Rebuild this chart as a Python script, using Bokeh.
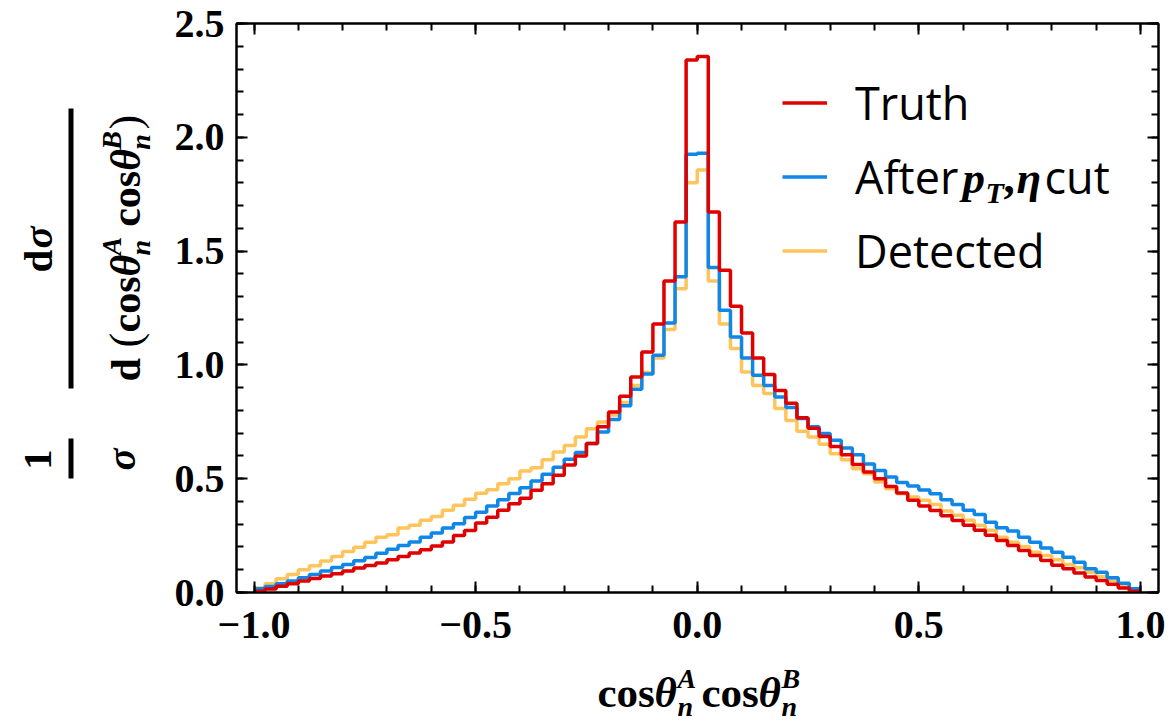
import numpy as np
from bokeh.plotting import figure
from bokeh.layouts import row, column
from bokeh.models import (Range1d, SingleIntervalTicker, LinearAxis, CustomJSTickFormatter,
                          Legend, LegendItem, Label, BoxAnnotation)
from bokeh.embed import file_html
from bokeh.resources import INLINE

# ---------------- data ----------------
bin_edges = [round(-1.0 + 0.025 * i, 4) for i in range(81)]

truth = [0.006, 0.015, 0.028, 0.038, 0.050, 0.062, 0.072, 0.082, 0.095, 0.108,
         0.119, 0.130, 0.144, 0.158, 0.174, 0.188, 0.204, 0.222, 0.250, 0.272,
         0.305, 0.331, 0.361, 0.390, 0.414, 0.449, 0.478, 0.515, 0.560, 0.600,
         0.655, 0.728, 0.793, 0.862, 0.947, 1.057, 1.180, 1.369, 1.628, 2.340,
         2.355, 1.672, 1.416, 1.258, 1.140, 1.030, 0.958, 0.888, 0.832, 0.768,
         0.722, 0.685, 0.641, 0.605, 0.562, 0.529, 0.500, 0.466, 0.437, 0.405,
         0.380, 0.360, 0.337, 0.316, 0.295, 0.273, 0.251, 0.229, 0.207, 0.185,
         0.163, 0.141, 0.120, 0.104, 0.086, 0.068, 0.053, 0.036, 0.020, 0.006]

after_cut = [0.016, 0.026, 0.038, 0.050, 0.065, 0.079, 0.095, 0.110, 0.123, 0.139,
             0.154, 0.172, 0.190, 0.206, 0.222, 0.243, 0.261, 0.283, 0.302, 0.330,
             0.353, 0.380, 0.408, 0.435, 0.460, 0.490, 0.520, 0.550, 0.585, 0.615,
             0.655, 0.705, 0.760, 0.820, 0.893, 0.960, 1.042, 1.184, 1.387, 1.925,
             1.930, 1.428, 1.240, 1.123, 1.030, 0.954, 0.910, 0.859, 0.813, 0.764,
             0.728, 0.699, 0.669, 0.635, 0.605, 0.565, 0.536, 0.507, 0.483, 0.468,
             0.450, 0.434, 0.408, 0.387, 0.361, 0.343, 0.309, 0.284, 0.270, 0.243,
             0.221, 0.196, 0.177, 0.155, 0.133, 0.104, 0.089, 0.065, 0.041, 0.016]

detected = [0.020, 0.038, 0.060, 0.079, 0.100, 0.117, 0.138, 0.158, 0.180, 0.199,
            0.221, 0.243, 0.254, 0.283, 0.295, 0.317, 0.334, 0.361, 0.383, 0.410,
            0.436, 0.451, 0.478, 0.500, 0.534, 0.548, 0.583, 0.617, 0.646, 0.683,
            0.720, 0.749, 0.780, 0.835, 0.910, 0.967, 1.030, 1.155, 1.335, 1.800,
            1.856, 1.369, 1.180, 1.072, 0.969, 0.910, 0.874, 0.808, 0.756, 0.708,
            0.683, 0.651, 0.610, 0.583, 0.544, 0.522, 0.485, 0.456, 0.434, 0.420,
            0.405, 0.387, 0.358, 0.339, 0.317, 0.295, 0.273, 0.243, 0.221, 0.202,
            0.177, 0.163, 0.144, 0.123, 0.109, 0.089, 0.070, 0.053, 0.026, 0.009]

series_names = ["Truth", "After", "Detected"]

# ---------------- layout constants (canvas px) ----------------
W, H = 1169, 724
YLAB_W = 168            # strip holding the rotated y label
XLAB_H = 66             # strip holding the x label
FL, FR, FT, FB = 236, 1158, 23, 592   # main frame edges in canvas px
MAIN_W = W - YLAB_W
MAIN_H = H - XLAB_H
SERIF = "Liberation Serif"
SANS = "Open Sans"
RED, BLUE, ORANGE = "#E00000", "#0F87E8", "#FFC55C"
SERIF_MID = 0.3375      # em-box middle above baseline (Liberation Serif)
SANS_MID = 0.388        # em-box middle above baseline (Open Sans)

p = figure(width=MAIN_W, height=MAIN_H, output_backend="svg", toolbar_location=None,
           x_range=Range1d(-1.0395, 1.0408), y_range=Range1d(0, 2.5),
           min_border_left=FL - YLAB_W, min_border_right=W - FR,
           min_border_top=FT, min_border_bottom=MAIN_H - FB,
           x_axis_location=None, y_axis_location=None)
p.grid.visible = False
p.outline_line_color = "black"
p.outline_line_width = 2
p.background_fill_color = "white"
p.border_fill_color = "white"

minus_fmt = CustomJSTickFormatter(code="return tick.toFixed(1).replace('-', '\u2212');")


def make_axis(show_labels):
    ax = LinearAxis(ticker=SingleIntervalTicker(interval=0.5, num_minor_ticks=5))
    ax.axis_line_width = 2
    ax.major_tick_line_width = 2
    ax.minor_tick_line_width = 2
    ax.major_tick_in = 11
    ax.major_tick_out = 0
    ax.minor_tick_in = 7
    ax.minor_tick_out = 0
    if show_labels:
        ax.formatter = minus_fmt
        ax.major_label_text_font = SERIF
        ax.major_label_text_font_style = "bold"
        ax.major_label_text_font_size = "40px"
        ax.major_label_text_color = "black"
    else:
        ax.formatter = CustomJSTickFormatter(code="return '';")
        ax.major_label_standoff = 0
    return ax


xb = make_axis(True)
xb.major_label_standoff = 19
yl = make_axis(True)
yl.major_label_standoff = 12
p.add_layout(xb, "below")
p.add_layout(yl, "left")
p.add_layout(make_axis(False), "above")
p.add_layout(make_axis(False), "right")


def stepped(vals):
    return list(vals) + [vals[-1]]


LW = 3.5
r_det = p.step(x=bin_edges, y=stepped(detected), mode="after", line_color=ORANGE, line_width=LW)
r_aft = p.step(x=bin_edges, y=stepped(after_cut), mode="after", line_color=BLUE, line_width=LW)
r_tru = p.step(x=bin_edges, y=stepped(truth), mode="after", line_color=RED, line_width=LW)

# ---------------- legend ----------------
ITEM_H = 61
legend = Legend(items=[LegendItem(label=series_names[0], renderers=[r_tru]),
                       LegendItem(label=series_names[1], renderers=[r_aft]),
                       LegendItem(label=series_names[2], renderers=[r_det])],
                location=(782 - FL, FB - (250 + ITEM_H / 2)),
                glyph_width=45, glyph_height=ITEM_H, label_height=ITEM_H, spacing=74 - ITEM_H,
                label_standoff=28, padding=0, margin=0,
                label_text_font=SANS, label_text_font_size="45px", label_text_color="black",
                border_line_color=None, background_fill_alpha=0)
p.add_layout(legend, "center")


def lab(fig, ox, oy, text, cx, cy, size, style="bold", font=SERIF, angle=0.0, align="left"):
    """Text whose em-box middle lies at canvas (cx, cy); (ox, oy) is the canvas
    position of the figure frame's bottom-left corner."""
    fig.add_layout(Label(x=cx - ox, y=oy - cy, x_units="screen", y_units="screen",
                         text=text, text_font=font, text_font_size=f"{size}px",
                         text_font_style=style, angle=angle, text_align=align,
                         text_baseline="middle", text_color="black"))


def hb(fig, ox, oy, text, cx, base, size, style="bold", font=SERIF, align="left"):
    """Horizontal text with its baseline at canvas y = base."""
    mid = SANS_MID if font == SANS else SERIF_MID
    lab(fig, ox, oy, text, cx, base - mid * size, size, style, font, 0.0, align)


def vb(fig, ox, oy, text, base, cy, size, style="bold", align="left"):
    """Text rotated 90 deg CCW with its baseline at canvas x = base."""
    lab(fig, ox, oy, text, base - SERIF_MID * size, cy, size, style, SERIF, np.pi / 2, align)


# legend math part following "After"
lb = 193
hb(p, FL, FB, "p", 962, lb, 45, "bold italic")
hb(p, FL, FB, "T", 985, lb + 9, 30, "bold italic")
hb(p, FL, FB, ",", 1003, lb, 45, "bold")
hb(p, FL, FB, "\u03b7", 1016, lb, 45, "bold italic")
hb(p, FL, FB, "cut", 1044, lb, 45, "normal", SANS)


def blank_fig(w, h):
    f = figure(width=w, height=h, output_backend="svg", toolbar_location=None,
               x_range=Range1d(0, 1), y_range=Range1d(0, 1),
               min_border=0, x_axis_location=None, y_axis_location=None)
    f.grid.visible = False
    f.outline_line_color = None
    f.background_fill_color = "white"
    f.border_fill_color = "white"
    return f


# ---------------- x-axis label strip (its frame is aligned with the main frame) ----------------
fx = blank_fig(MAIN_W, XLAB_H)
XO, YO = FL, H
x0 = 597
xbase = 707
for k, sup in enumerate(["A", "B"]):
    o = x0 + k * 104
    hb(fx, XO, YO, "cos", o, xbase, 43, "bold")
    hb(fx, XO, YO, "\u03b8", o + 57, xbase, 43, "bold italic")
    hb(fx, XO, YO, sup, o + 80, xbase - 20, 28, "bold italic")
    hb(fx, XO, YO, "n", o + 80, xbase + 8, 28, "bold italic")

# ---------------- y-axis label strip (rotated) ----------------
fy = blank_fig(YLAB_W, H)
OX, OY = 0, H
vb(fy, OX, OY, "1", 51, 459, 41, "bold", align="center")
vb(fy, OX, OY, "\u03c3", 134, 459, 41, "bold italic", align="center")
vb(fy, OX, OY, "d", 51, 272, 41, "bold")
vb(fy, OX, OY, "\u03c3", 51, 248, 41, "bold italic")

ys = 381
bx = 140
vb(fy, OX, OY, "d", bx, ys, 42, "bold")
vb(fy, OX, OY, "(", bx, ys - 34, 44, "normal")
for k, sup in enumerate(["A", "B"]):
    o = ys - 49 - k * 105.7
    vb(fy, OX, OY, "cos", bx, o, 42, "bold")
    vb(fy, OX, OY, "\u03b8", bx, o - 56, 42, "bold italic")
    vb(fy, OX, OY, sup, bx - 20, o - 77, 28, "bold italic")
    vb(fy, OX, OY, "n", bx + 9, o - 77, 28, "bold italic")
vb(fy, OX, OY, ")", bx, ys - 252, 44, "normal")

for (l, r, t, b) in [(68, 73, 438, 478), (68, 73, 108, 388)]:
    fy.add_layout(BoxAnnotation(left=l - OX, right=r - OX, top=OY - t, bottom=OY - b,
                                left_units="screen", right_units="screen",
                                top_units="screen", bottom_units="screen",
                                fill_color="black", fill_alpha=1.0, line_color=None))

layout = row(fy, column(p, fx, spacing=0), spacing=0)
open("out.html", "w").write(file_html(layout, INLINE))
